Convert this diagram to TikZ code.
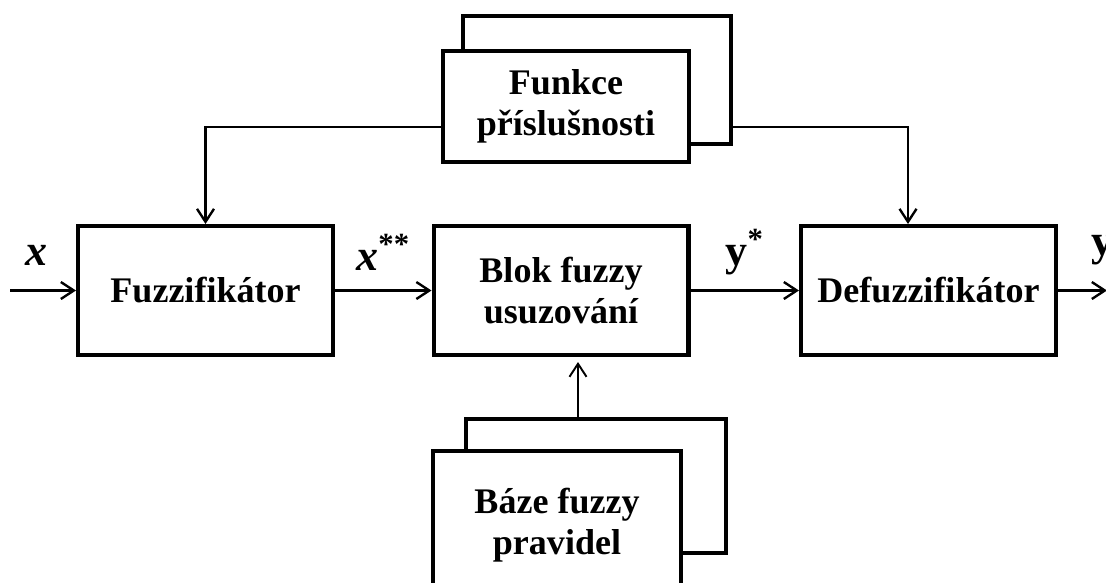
\documentclass[tikz,border=0pt]{standalone}
\usepackage{fontspec}
\setmainfont{Liberation Serif}
\usetikzlibrary{arrows.meta}

\begin{document}
\begin{tikzpicture}[x=0.02cm,y=-0.02cm,
  blok/.style={draw, line width=2.3pt, fill=white, minimum width=5.1cm, minimum height=2.58cm, align=center, font=\fontsize{20.5}{23.5}\selectfont\bfseries},
  wire/.style={line width=1.35pt},
  sig/.style={font=\fontsize{25}{25}\selectfont\bfseries, anchor=base, inner sep=0pt},
  >={Straight Barb[length=0.26cm,width=0.34cm]}]
\useasboundingbox (0,0) rectangle (1106,582);
\clip (0,0) rectangle (1106,582);

% hlavni retezec
\node [blok] (fuzz) at (205.5,290.5) {Fuzzifikátor};
\node [blok] (blok) at (561,290.5) {Blok fuzzy\\usuzování};
\node [blok] (defuzz) at (928.5,290.5) {Defuzzifikátor};

% bloky s podkladem
\node [blok, minimum width=5.36cm, minimum height=2.56cm] (funkceB) at (597,80) {};
\node [blok, minimum width=4.92cm, minimum height=2.22cm] (funkce) at (566,106.5) {Funkce\\příslušnosti};
\node [blok, minimum width=5.2cm, minimum height=2.68cm] (bazeB) at (596,486) {};
\node [blok, minimum width=4.96cm, minimum height=2.96cm] (baze) at (557,525) {Báze fuzzy\\pravidel};

\coordinate (in) at (10,290.5);
\coordinate (out) at (1107,290.5);

\draw [wire, ->] (in) -- node[sig, pos=.4, yshift=.51cm] (xin) {\textit{x}} (fuzz);
\draw [wire, ->] (fuzz) -- node[sig, yshift=.41cm] (xss) {\textit{x}\textsuperscript{**}} (blok);
\draw [wire, ->] (blok) -- node[sig, yshift=.51cm] (ys) {y\textsuperscript{*}} (defuzz);
\draw [wire, ->] (defuzz) -- node[sig, pos=.9, yshift=.7cm] (yout) {y} (out);

\draw [wire, ->] (funkce.west |- 0,127) -| (fuzz);
\draw [wire, ->] (funkceB.east |- 0,127) -| ([xshift=-0.41cm]defuzz.north);
\draw [line width=1.1pt, ->, shorten >=0.1cm] (bazeB.north -| 578,0) -- (blok.south -| 578,0);

\end{tikzpicture}
\end{document}
